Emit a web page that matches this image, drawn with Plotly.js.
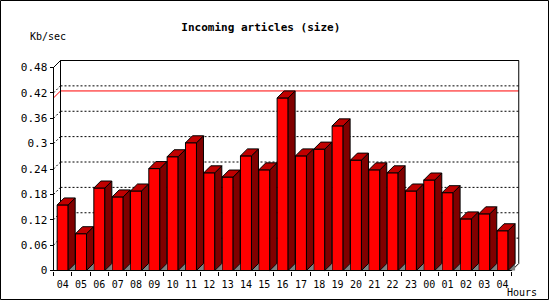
<!DOCTYPE html>
<html>
<head>
<meta charset="utf-8">
<script src="https://cdn.plot.ly/plotly-3.0.1.min.js"></script>
<style>
  html, body { margin: 0; padding: 0; background: #ffffff; }
  #chart { width: 550px; height: 300px; }
</style>
</head>
<body>
<div id="chart"></div>
<script>
// ---- data ----
const categories = ['04','05','06','07','08','09','10','11','12','13','14','15','16',
                    '17','18','19','20','21','22','23','00','01','02','03','04'];
const values = [0.155, 0.087, 0.195, 0.174, 0.188, 0.241, 0.269, 0.302, 0.231, 0.221,
                0.271, 0.238, 0.408, 0.271, 0.287, 0.342, 0.261, 0.238, 0.231, 0.188,
                0.214, 0.184, 0.122, 0.134, 0.094];
const yTickVals = [0, 0.06, 0.12, 0.18, 0.24, 0.30, 0.36, 0.42, 0.48];
const yTickText = ['0', '0.06', '0.12', '0.18', '0.24', '0.3', '0.36', '0.42', '0.48'];

// ---- geometry (pixels) ----
const WIDTH = 550, HEIGHT = 300;
const L = 50, R = 523, T = 58, B = 273;
const W = R - L, H = B - T;
const X0 = 53.5, Y0 = 270.5;          // front axes position
const SLOT = 18.33;                   // px per category
const yMaxTick = yTickVals[yTickVals.length - 1];
const PPU = 203 / yMaxTick;           // px per unit on y
const DEPTH = 7;                      // 3d depth px
const dxU = DEPTH / SLOT, dyU = DEPTH / PPU;
const HALF = 5.5 / SLOT;

const n = categories.length;
const idx = categories.map((_, i) => i);
const boundaries = Array.from({length: n + 1}, (_, i) => i - 0.5);
const xRange = [-0.5 - (X0 - L) / SLOT, -0.5 + (R - X0) / SLOT];
const yRange = [-(B - Y0) / PPU, (Y0 - T) / PPU];

// ---- 3d faces built from data ----
const sideX = [], sideY = [], topX = [], topY = [], triX = [], triY = [];
values.forEach((v, i) => {
  const xl = i - HALF, xr = i + HALF;
  sideX.push(xr, xr + dxU, xr + dxU, xr, xr, null);
  sideY.push(0, dyU, v + dyU, v, 0, null);
  topX.push(xl, xl + dxU, xr + dxU, xr, xl, null);
  topY.push(v, v + dyU, v + dyU, v, v, null);
  triX.push(xr, xr + dxU, xr + dxU, xr, null);
  triY.push(0, dyU, 0, 0, null);
});

const traces = [
  { type: 'bar', x: idx, y: values, width: 2 * HALF,
    marker: { color: '#ff0000', line: { color: '#000000', width: 1 } },
    hoverinfo: 'skip', showlegend: false },
  { type: 'scatter', mode: 'lines', x: triX, y: triY, fill: 'toself',
    fillcolor: '#808080', line: { width: 0, color: 'rgba(0,0,0,0)' },
    hoverinfo: 'skip', showlegend: false },
  { type: 'scatter', mode: 'lines', x: sideX, y: sideY, fill: 'toself',
    fillcolor: '#800000', line: { color: '#000000', width: 1 },
    hoverinfo: 'skip', showlegend: false },
  { type: 'scatter', mode: 'lines', x: topX, y: topY, fill: 'toself',
    fillcolor: '#c00000', line: { color: '#000000', width: 1 },
    hoverinfo: 'skip', showlegend: false }
];

// ---- walls, grid, max line ----
const xb0 = -0.5 + dxU;
const xEnd = (n - 0.5) + dxU;
const shapes = [];
const ln = (x0, y0, x1, y1, line, layer) =>
  ({ type: 'line', xref: 'x', yref: 'y', x0, y0, x1, y1, line, layer: layer || 'below' });
const dotted = { color: '#000000', width: 1, dash: '2px,2px' };
const solid = { color: '#000000', width: 1 };
yTickVals.forEach(v => {
  if (v <= 0) return;
  shapes.push(ln(xb0, v + dyU, xEnd, v + dyU, dotted));
  shapes.push(ln(-0.5, v, xb0, v + dyU, dotted));
});
const vMax = Math.max(...values);
shapes.push(ln(-0.5, vMax, xb0, vMax + dyU, { color: '#ff0000', width: 1 }));
shapes.push(ln(xb0, vMax + dyU, xEnd, vMax + dyU, { color: '#ff0000', width: 1 }));
// back wall
shapes.push(ln(xb0, dyU, xb0, yMaxTick + dyU, solid));
shapes.push(ln(xb0, yMaxTick + dyU, xEnd, yMaxTick + dyU, solid));
shapes.push(ln(xEnd, dyU, xEnd, yMaxTick + dyU, solid));
shapes.push(ln(-0.5, yMaxTick, xb0, yMaxTick + dyU, solid));
shapes.push(ln(n - 0.5, 0, xEnd, dyU, solid));
// front axes
shapes.push(ln(-0.5, 0, -0.5, yMaxTick, solid, 'above'));
shapes.push(ln(-0.5, 0, n - 0.5, 0, solid, 'above'));
// image border
shapes.push({ type: 'rect', xref: 'paper', yref: 'paper',
  x0: (0.5 - L) / W, x1: (548.5 - L) / W, y0: (B - 299.5) / H, y1: (B - 0.5) / H,
  line: { color: '#000000', width: 1 }, fillcolor: 'rgba(0,0,0,0)', layer: 'above' });

const mono = 'DejaVu Sans Mono, monospace';
const yFont = { family: mono, size: 11, color: '#000000' };
const xFont = { family: mono, size: 10, color: '#000000' };

const layout = {
  width: WIDTH, height: HEIGHT,
  margin: { l: L, r: WIDTH - R, t: T, b: HEIGHT - B, pad: 0 },
  paper_bgcolor: '#ffffff', plot_bgcolor: '#ffffff',
  showlegend: false,
  hovermode: false,
  title: { text: '<b>Incoming articles (size)</b>',
    font: { family: mono, size: 11, color: '#000000' },
    xref: 'container', x: 260.8 / WIDTH, xanchor: 'center',
    yref: 'container', y: 1 - 27 / HEIGHT, yanchor: 'middle' },
  xaxis: {
    range: xRange, anchor: 'free', position: (B - Y0) / H,
    showgrid: false, zeroline: false, showline: false,
    tickmode: 'array', tickvals: idx, ticktext: categories,
    ticks: 'outside', ticklen: 4, tickcolor: 'rgba(0,0,0,0)', tickwidth: 1,
    minor: { tickmode: 'array', tickvals: boundaries, ticks: 'outside',
             ticklen: 4, tickcolor: '#000000', tickwidth: 1, showgrid: false },
    tickfont: xFont, fixedrange: true
  },
  yaxis: {
    range: yRange, anchor: 'free', position: (X0 - L) / W,
    showgrid: false, zeroline: false, showline: false,
    tickmode: 'array', tickvals: yTickVals, ticktext: yTickText,
    ticks: 'outside', ticklen: 4, tickcolor: '#000000', tickwidth: 1,
    tickfont: yFont, fixedrange: true
  },
  shapes: shapes,
  annotations: [
    { text: 'Kb/sec', xref: 'paper', yref: 'paper',
      x: (28 - L) / W, xanchor: 'left', y: (B - 37) / H, yanchor: 'middle',
      showarrow: false, font: xFont },
    { text: 'Hours', xref: 'paper', yref: 'paper',
      x: (505 - L) / W, xanchor: 'left', y: (B - 292) / H, yanchor: 'middle',
      showarrow: false, font: xFont }
  ]
};

Plotly.newPlot('chart', traces, layout, { staticPlot: true, displayModeBar: false });
</script>
</body>
</html>
